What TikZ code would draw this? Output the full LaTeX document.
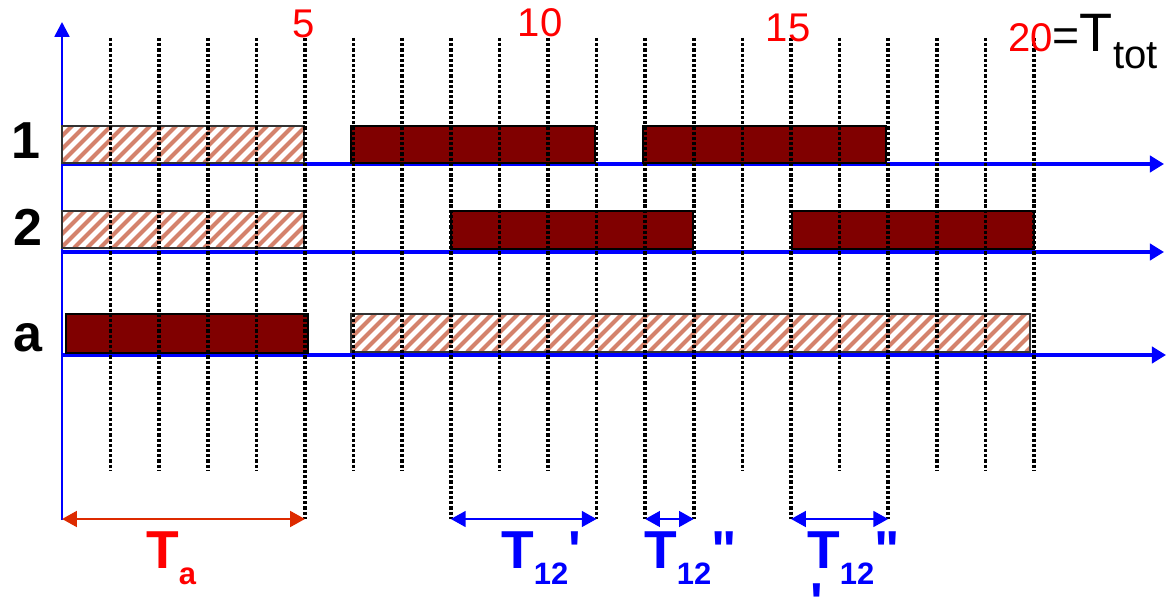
\documentclass[tikz,border=0pt]{standalone}
\usepackage{fontspec}
\setmainfont{Liberation Sans}[Ligatures=TeXOff]
\usetikzlibrary{arrows.meta}
\definecolor{darkbar}{HTML}{800000}
\definecolor{hatchred}{HTML}{D4826C}
\definecolor{arrred}{HTML}{DD2A00}
\newcommand{\lowidx}[1]{\raisebox{-12pt}{\fontsize{22}{23}\selectfont #1}}

\begin{document}
\begin{tikzpicture}[
    x=0.025cm, y=-0.025cm,
    grid/.style={line width=2.5pt, dash pattern=on 2.3pt off 1.4pt},
    axis/.style={draw=blue, line width=3.2pt, -{Triangle[length=10pt,width=11.5pt]}},
    yaxis/.style={draw=blue, line width=1.8pt, -{Triangle[length=10.5pt,width=10.5pt]}},
    busy/.style={draw=black, line width=1.2pt, fill=darkbar},
    idle/.style={draw=black!80, line width=1pt},
    hatch/.style={draw=hatchred, line width=2.8pt},
    dimred/.style={draw=arrred, line width=2.1pt, {Triangle[length=10.5pt,width=11pt]}-{Triangle[length=10.5pt,width=11pt]}},
    dimblue/.style={draw=blue, line width=2.1pt, {Triangle[length=10.5pt,width=11pt]}-{Triangle[length=10.5pt,width=11pt]}},
    rowlab/.style={inner sep=0pt, anchor=base, font=\fontsize{37}{40}\selectfont\bfseries},
    tick/.style={inner sep=0pt, anchor=base, text=red, font=\fontsize{28.5}{30}\selectfont},
    tlab/.style={inner sep=0pt, anchor=base west, font=\fontsize{38}{40}\selectfont\bfseries}
  ]
    \useasboundingbox (0,0) rectangle (1168,603);

    % Axes
    \draw[yaxis] (62,520) -- (62,22);
    \draw[axis] (62,164) -- (1164,164);
    \draw[axis] (62,252) -- (1164,252);
    \draw[axis] (62,355) -- (1166,355);

    % Hatched bars
    \foreach \xa/\xb/\ya/\yb in {62/304/126/163, 62/304/211/248, 351/1030/314/352}{
      \begin{scope}
        \clip (\xa,\ya) rectangle (\xb,\yb);
        \foreach \k in {0,13,...,740}
          \draw[hatch] ({\xa-40+\k},\yb) -- ++(40,-40);
      \end{scope}
      \draw[idle] (\xa,\ya) rectangle (\xb,\yb);
    }

    % Busy bars
    \foreach \xa/\xb/\ya/\yb in {351/595/126/163, 643/886/126/163, 451/693/211/249, 792/1034/211/249, 66/308/314/353}
      \draw[busy] (\xa,\ya) rectangle (\xb,\yb);

    % Time grid
    \foreach \t in {1,...,20}
      \draw[grid] ({62+48.6*\t},38) -- ({62+48.6*\t},470);
    \foreach \t in {0,5,8,11,12,13,15,17}
      \coordinate (m\t) at ({62+48.6*\t},519);
    \foreach \t in {5,8,11,12,13,15,17}
      \draw[grid] ({62+48.6*\t},470) -- (m\t);

    % Row labels
    \node[rowlab] (lab1) at (26,159) {1};
    \node[rowlab] (lab2) at (28,245) {2};
    \node[rowlab] (laba) at (28,351) {a};

    % Time marks
    \node[tick] (n5) at (304,38) {5};
    \node[tick] (n10) at (540,37) {10};
    \node[tick] (n15) at (788,42) {15};
    \node[inner sep=0pt, anchor=base west, font=\fontsize{28.5}{30}\selectfont] (ntot) at (1008,52)
      {\textcolor{red}{20}{\fontsize{33}{34}\selectfont=}{\fontsize{38.5}{40}\selectfont T}\raisebox{-11.4pt}{tot}};

    % Durations
    \draw[dimred] (m0) -- (m5);
    \draw[dimblue] (m8) -- (m11);
    \draw[dimblue] (m12) -- (m13);
    \draw[dimblue] (m15) -- (m17);
    \node[tlab, text=red] (ta) at (146,568) {T\lowidx{a}};
    \node[tlab, text=blue] (t12a) at (501,568) {T\lowidx{12}'};
    \node[tlab, text=blue] (t12b) at (644,568) {T\lowidx{12}"};
    \node[tlab, text=blue] (t12c) at (807,568) {\rlap{\hspace{2pt}\raisebox{-37pt}{'}}T\lowidx{12}"};
  \end{tikzpicture}
\end{document}
